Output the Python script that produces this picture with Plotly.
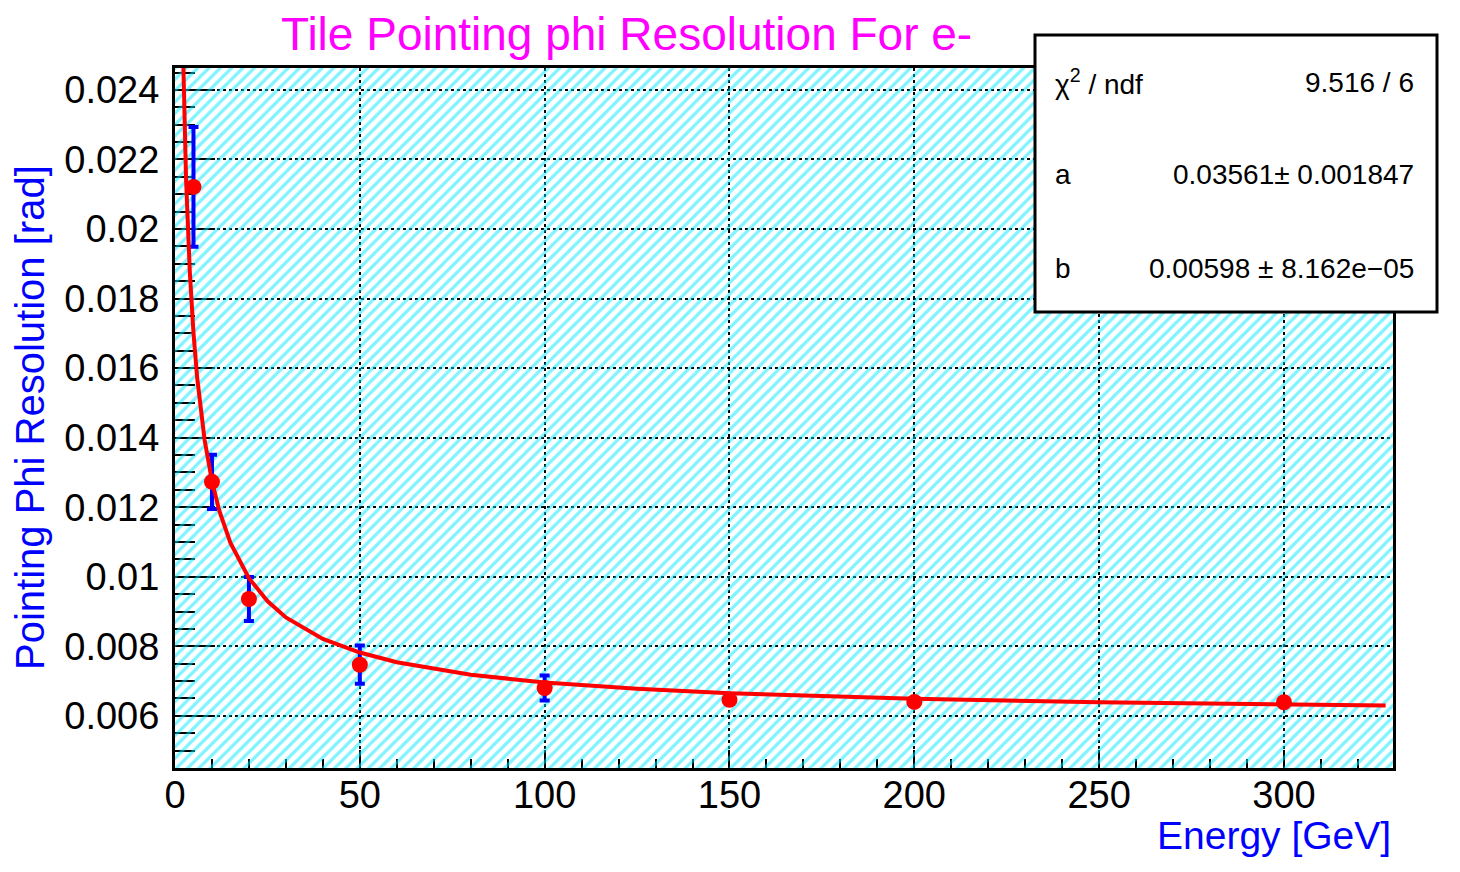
import plotly.graph_objects as go

# Measured resolution vs. beam energy
energy = [5, 10, 20, 50, 100, 150, 200, 300]
resolution = [0.02121, 0.01273, 0.00936, 0.00747, 0.00680, 0.00646, 0.00640, 0.00639]
resolution_err = [0.00172, 0.00078, 0.00063, 0.00055, 0.00036, 0.00012, 0.00010, 0.00008]

# Fitted curve sigma(E) = sqrt(a^2/E + b^2), sampled along the energy range
fit_energy = [2.0, 2.25, 2.5, 3, 4, 5, 6, 8, 10, 12, 15, 20, 25, 30, 40, 50, 60, 80,
              100, 125, 150, 175, 200, 250, 300, 327.5]
fit_resolution = [0.02588, 0.02448, 0.02330, 0.02141, 0.01878, 0.01701, 0.01572, 0.01394,
                  0.01275, 0.01189, 0.01097, 0.00996, 0.00930, 0.00883, 0.00821, 0.00782,
                  0.00754, 0.00718, 0.00696, 0.00678, 0.00665, 0.00656, 0.00649, 0.00639,
                  0.00632, 0.00630]

# Fit summary
stat_labels = ["\u03c7<sup>2</sup> / ndf", "a", "b"]
stat_values = ["9.516 / 6", "0.03561\u00b1 0.001847", "0.00598 \u00b1 8.162e\u221205"]

# Axis ranges and ticks
x_range = [0, 329.5]
y_range = [0.0045, 0.02463]
x_ticks = [0, 50, 100, 150, 200, 250, 300]
x_ticktext = ["0", "50", "100", "150", "200", "250", "300"]
y_ticks = [0.006, 0.008, 0.010, 0.012, 0.014, 0.016, 0.018, 0.020, 0.022, 0.024]
y_ticktext = ["0.006", "0.008", "0.01", "0.012", "0.014", "0.016", "0.018", "0.02", "0.022", "0.024"]

FONT = "Liberation Sans, Arial, Helvetica, sans-serif"
W, H = 1460, 872
ML, MR, MT, MB = 175, 67, 68, 104
PW, PH = W - ML - MR, H - MT - MB


def px_x(p):
    return (p - ML) / PW


def px_y(p):
    return (H - MB - p) / PH


fig = go.Figure()

# Hatched frame background
fig.add_trace(go.Scatter(
    x=[x_range[0], x_range[1], x_range[1], x_range[0], x_range[0]],
    y=[y_range[0], y_range[0], y_range[1], y_range[1], y_range[0]],
    mode="none", fill="toself", fillcolor="rgba(0,0,0,0)",
    fillpattern=dict(shape="/", fgcolor="#00e8ff", bgcolor="rgba(0,0,0,0)",
                     size=8, solidity=0.4),
    hoverinfo="skip", showlegend=False,
))

# Data points with error bars
fig.add_trace(go.Scatter(
    x=energy, y=resolution, mode="markers",
    marker=dict(color="#ff0000", size=16, line=dict(width=0)),
    error_y=dict(type="data", array=resolution_err, color="#0000ff",
                 thickness=4, width=5),
    showlegend=False,
))

# Fit curve
fig.add_trace(go.Scatter(
    x=fit_energy, y=fit_resolution, mode="lines",
    line=dict(color="#ff0000", width=4),
    showlegend=False,
))

axis_common = dict(
    showline=True, linecolor="black", linewidth=3, mirror=True,
    ticks="inside", tickcolor="black", tickwidth=2,
    showgrid=True, gridcolor="black", gridwidth=1.5, griddash="dot",
    zeroline=False, layer="below traces",
    tickfont=dict(family=FONT, size=38, color="black"),
)

fig.update_xaxes(
    range=x_range, tickvals=x_ticks, ticktext=x_ticktext, ticklen=18,
    minor=dict(dtick=10, ticks="inside", ticklen=9, tickcolor="black", tickwidth=2,
               showgrid=False),
    ticklabelstandoff=-9,
    **axis_common,
)
fig.update_yaxes(
    range=y_range, tickvals=y_ticks, ticktext=y_ticktext, ticklen=40,
    minor=dict(dtick=0.0005, tick0=0.006, ticks="inside", ticklen=20, tickcolor="black",
               tickwidth=2, showgrid=False),
    ticklabelstandoff=5,
    **axis_common,
)

annotations = [
    dict(text="Tile Pointing phi Resolution For e-", x=px_x(626), y=px_y(34),
         xref="paper", yref="paper", xanchor="center", yanchor="middle",
         showarrow=False, font=dict(family=FONT, size=46, color="#ff00ff")),
    dict(text="Energy [GeV]", x=1.0, y=px_y(835), xref="paper", yref="paper",
         xanchor="right", yanchor="middle", showarrow=False,
         font=dict(family=FONT, size=39, color="#0000ff")),
    dict(text="Pointing Phi Resolution [rad]", x=px_x(30), y=px_y(418),
         xref="paper", yref="paper", xanchor="center", yanchor="middle",
         textangle=-90, showarrow=False,
         font=dict(family=FONT, size=40, color="#0000ff")),
]

# Fit statistics box
row_y = [82, 174, 268]
for lab, val, ry in zip(stat_labels, stat_values, row_y):
    annotations.append(dict(text=lab, x=px_x(1053), y=px_y(ry), xref="paper", yref="paper",
                            xanchor="left", yanchor="middle", showarrow=False,
                            font=dict(family=FONT, size=28, color="black")))
    annotations.append(dict(text=val, x=px_x(1416), y=px_y(ry), xref="paper", yref="paper",
                            xanchor="right", yanchor="middle", showarrow=False,
                            font=dict(family=FONT, size=28, color="black")))

fig.update_layout(
    width=W, height=H,
    margin=dict(l=ML, r=MR, t=MT, b=MB, pad=0),
    paper_bgcolor="white", plot_bgcolor="white",
    showlegend=False,
    annotations=annotations,
    shapes=[dict(type="rect", xref="paper", yref="paper",
                 x0=px_x(1035), x1=px_x(1437), y0=px_y(312), y1=px_y(35),
                 line=dict(color="black", width=3), fillcolor="white", layer="above")],
)

fig.write_html("out.html")
